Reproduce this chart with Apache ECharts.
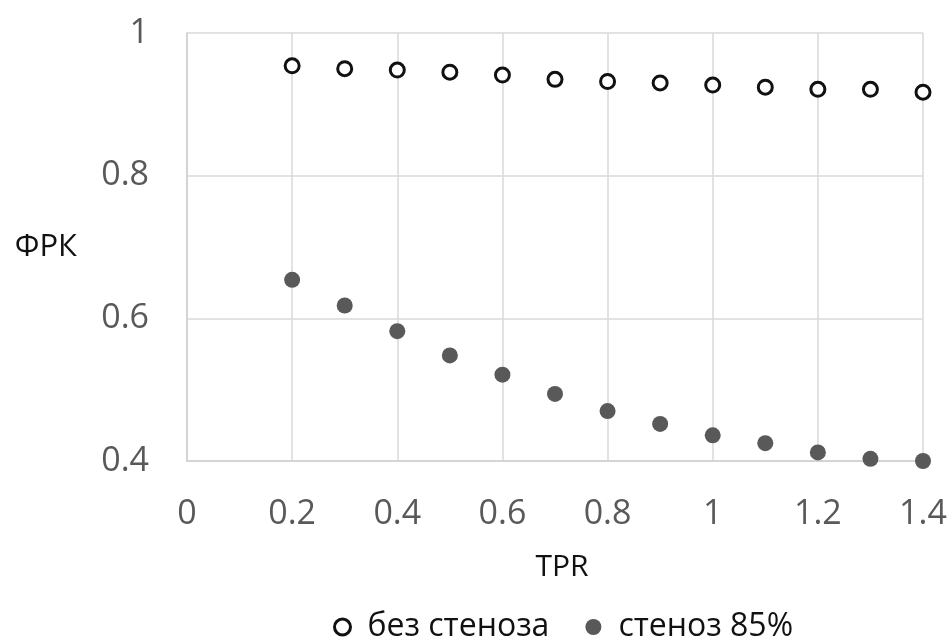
<!DOCTYPE html>
<html>
<head>
<meta charset="utf-8">
<script src="https://cdn.jsdelivr.net/npm/echarts@6/dist/echarts.min.js"></script>
<style>html,body{margin:0;padding:0;background:#fff}#c{width:952px;height:639px}</style>
</head>
<body>
<div id="c"></div>
<script>
const tpr = [0.2, 0.3, 0.4, 0.5, 0.6, 0.7, 0.8, 0.9, 1.0, 1.1, 1.2, 1.3, 1.4];
const noStenosis = [0.954, 0.950, 0.948, 0.945, 0.941, 0.935, 0.932, 0.930, 0.927, 0.924, 0.921, 0.921, 0.917];
const stenosis85 = [0.654, 0.618, 0.582, 0.548, 0.521, 0.494, 0.470, 0.452, 0.436, 0.425, 0.412, 0.403, 0.400];
const seriesNames = ['без стеноза', 'стеноз 85%'];
const xName = 'TPR';
const yName = 'ФРК';

const font = '"Open Sans", "Noto Sans", sans-serif';
const chart = echarts.init(document.getElementById('c'), null, {renderer: 'canvas'});
chart.setOption({
  animation: false,
  backgroundColor: '#fff',
  textStyle: {fontFamily: font},
  grid: {left: 187, top: 33, width: 736, height: 428, containLabel: false},
  xAxis: {
    type: 'value', min: 0, max: 1.4, interval: 0.2,
    name: xName, nameLocation: 'middle', nameGap: 91,
    nameTextStyle: {color: '#111', fontSize: 30, fontFamily: font, padding: [0, 0, 0, 14]},
    axisLine: {show: true, lineStyle: {color: '#cfcfcf', width: 1.5}},
    axisTick: {show: false},
    splitLine: {show: true, lineStyle: {color: '#d9d9d9', width: 1.5}},
    axisLabel: {color: '#595959', fontSize: 34, margin: 36, fontFamily: font,
      formatter: v => String(+v.toFixed(1))}
  },
  yAxis: {
    type: 'value', min: 0.4, max: 1, interval: 0.2,
    name: yName, nameLocation: 'middle', nameRotate: 0, nameGap: 110,
    nameTextStyle: {color: '#111', fontSize: 31, fontFamily: font, padding: [6, 0, 0, 0]},
    axisLine: {show: true, lineStyle: {color: '#cfcfcf', width: 1.5}},
    axisTick: {show: false},
    splitLine: {show: true, lineStyle: {color: '#d9d9d9', width: 1.5}},
    axisLabel: {color: '#595959', fontSize: 34, margin: 38, fontFamily: font,
      formatter: v => String(+v.toFixed(1))}
  },
  legend: {
    left: 333, top: 611, itemWidth: 16, itemHeight: 16, itemGap: 36, padding: 0,
    textStyle: {color: '#111', fontSize: 32, fontFamily: font, padding: [0, 0, 0, 12]},
    data: [
      {name: seriesNames[0], itemStyle: {color: '#fff', borderColor: '#111', borderWidth: 3}},
      {name: seriesNames[1], itemStyle: {color: '#595959', borderWidth: 0}}
    ]
  },
  series: [
    {
      name: seriesNames[0], type: 'scatter', symbol: 'circle', symbolSize: 14,
      itemStyle: {color: '#fff', borderColor: '#111', borderWidth: 3, opacity: 1},
      data: tpr.map((x, i) => [x, noStenosis[i]])
    },
    {
      name: seriesNames[1], type: 'scatter', symbol: 'circle', symbolSize: 16,
      itemStyle: {color: '#595959', opacity: 1},
      data: tpr.map((x, i) => [x, stenosis85[i]])
    }
  ]
});
</script>
</body>
</html>
